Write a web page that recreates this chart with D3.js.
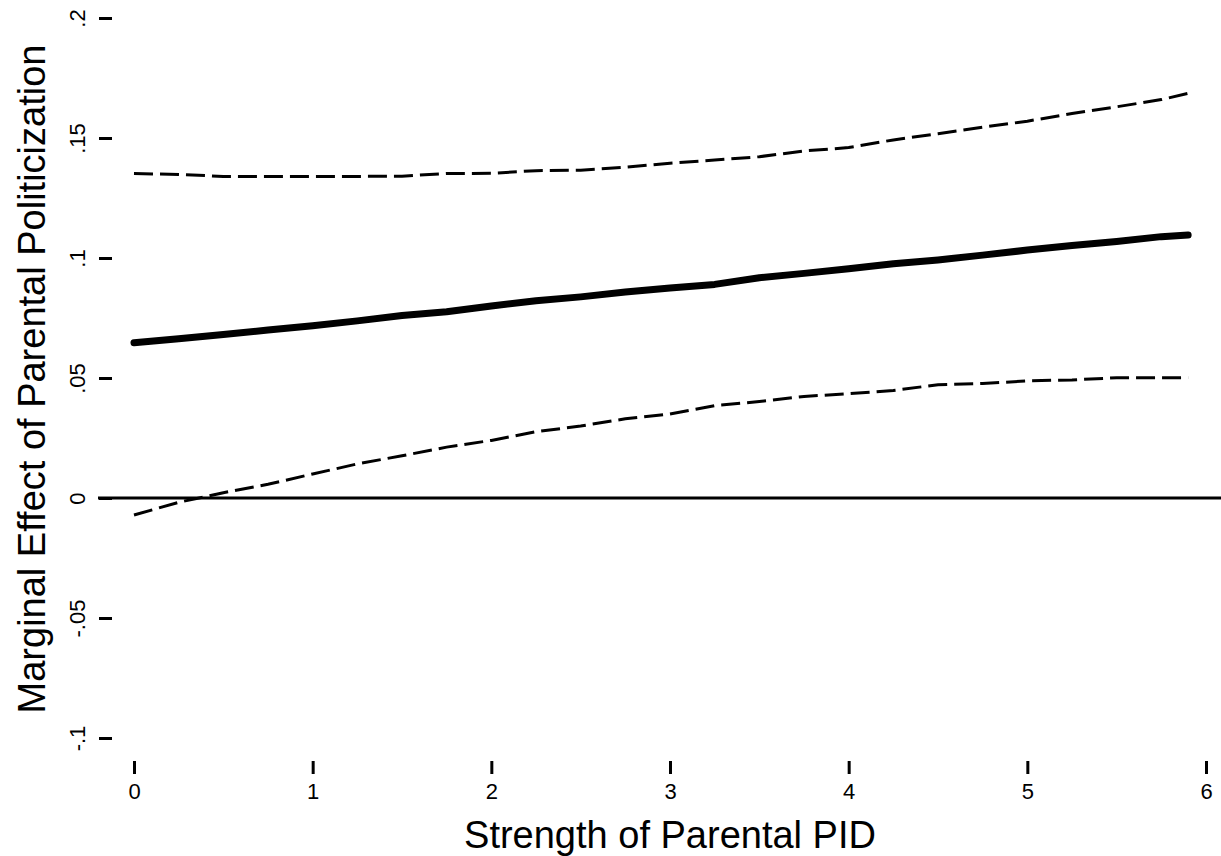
<!DOCTYPE html>
<html>
<head>
<meta charset="utf-8">
<script src="https://cdn.jsdelivr.net/npm/d3@7"></script>
<style>
  html, body { margin: 0; padding: 0; background: #fff; }
  svg { display: block; }
  text { font-family: "Liberation Sans", Arial, Helvetica, sans-serif; fill: #000; }
</style>
</head>
<body>
<svg id="chart" width="1221" height="856"></svg>
<script>
// ---- data ----
const xValues = [0, 0.25, 0.5, 0.75, 1.0, 1.25, 1.5, 1.75, 2.0, 2.25, 2.5, 2.75, 3.0,
                 3.25, 3.5, 3.75, 4.0, 4.25, 4.5, 4.75, 5.0, 5.25, 5.5, 5.75, 5.9];
const marginalEffect = [0.0647, 0.0664, 0.0681, 0.0700, 0.0718, 0.0738, 0.0760, 0.0776, 0.0800,
                        0.0822, 0.0838, 0.0858, 0.0875, 0.0890, 0.0918, 0.0936, 0.0955, 0.0976,
                        0.0992, 0.1012, 0.1033, 0.1052, 0.1069, 0.1089, 0.1096];
const upperCI = [0.1352, 0.1348, 0.1340, 0.1340, 0.1340, 0.1340, 0.1341, 0.1352, 0.1353,
                 0.1364, 0.1366, 0.1378, 0.1395, 0.1408, 0.1422, 0.1446, 0.1460, 0.1492,
                 0.1518, 0.1545, 0.1570, 0.1602, 0.1630, 0.1660, 0.1686];
const lowerCI = [-0.0071, -0.0018, 0.0022, 0.0057, 0.0100, 0.0142, 0.0176, 0.0212, 0.0240,
                 0.0276, 0.0300, 0.0330, 0.0350, 0.0385, 0.0402, 0.0423, 0.0435, 0.0448,
                 0.0472, 0.0477, 0.0488, 0.0492, 0.0501, 0.0501, 0.0501];
const xTicks = [0, 1, 2, 3, 4, 5, 6];
const xTickLabels = ["0", "1", "2", "3", "4", "5", "6"];
const yTicks = [-0.1, -0.05, 0, 0.05, 0.1, 0.15, 0.2];
const yTickLabels = ["-.1", "-.05", "0", ".05", ".1", ".15", ".2"];
const xTitle = "Strength of Parental PID";
const yTitle = "Marginal Effect of Parental Politicization";

// ---- layout ----
const svg = d3.select("#chart");
const x = d3.scaleLinear().domain([0, 6]).range([134, 1206]);
const y = d3.scaleLinear().domain([-0.1, 0.2]).range([738, 18]);

// reference line at zero
svg.append("line")
  .attr("x1", 98).attr("x2", 1221)
  .attr("y1", y(0)).attr("y2", y(0))
  .attr("stroke", "#000").attr("stroke-width", 3);

// y axis (ticks + rotated labels, no domain line)
const yAxis = d3.axisLeft(y).tickValues(yTicks)
  .tickFormat((d, i) => yTickLabels[i]).tickSize(13).tickPadding(0);
const gy = svg.append("g").attr("transform", "translate(112,0)").call(yAxis);
gy.attr("font-size", null).attr("font-family", null);
gy.select(".domain").remove();
gy.selectAll(".tick line").attr("stroke", "#000").attr("stroke-width", 3);
gy.selectAll(".tick text")
  .attr("x", 0).attr("dy", null)
  .attr("text-anchor", "middle")
  .attr("transform", "translate(-35,0) rotate(-90)")
  .attr("dominant-baseline", "central")
  .attr("font-size", 22)
  .style("font-size", "22px");

// x axis
const xAxis = d3.axisBottom(x).tickValues(xTicks)
  .tickFormat((d, i) => xTickLabels[i]).tickSize(13).tickPadding(9);
const gx = svg.append("g").attr("transform", "translate(0,761)").call(xAxis);
gx.attr("font-size", null).attr("font-family", null);
gx.select(".domain").remove();
gx.selectAll(".tick line").attr("stroke", "#000").attr("stroke-width", 3);
gx.selectAll(".tick text")
  .attr("font-size", 22)
  .style("font-size", "22px");

// lines
const line = (vals) => d3.line()
  .x((d, i) => x(xValues[i]))
  .y(d => y(d))(vals);

svg.append("path").attr("d", line(upperCI))
  .attr("fill", "none").attr("stroke", "#000").attr("stroke-width", 3)
  .attr("stroke-dasharray", "19,7");
svg.append("path").attr("d", line(lowerCI))
  .attr("fill", "none").attr("stroke", "#000").attr("stroke-width", 3)
  .attr("stroke-dasharray", "19,7");
svg.append("path").attr("d", line(marginalEffect))
  .attr("fill", "none").attr("stroke", "#000").attr("stroke-width", 7)
  .attr("stroke-linecap", "round").attr("stroke-linejoin", "round");

// titles
svg.append("text")
  .attr("x", 670).attr("y", 848)
  .attr("text-anchor", "middle")
  .style("font-size", "38px")
  .text(xTitle);
svg.append("text")
  .attr("transform", "translate(45,379) rotate(-90)")
  .attr("text-anchor", "middle")
  .style("font-size", "38px")
  .text(yTitle);
</script>
</body>
</html>
